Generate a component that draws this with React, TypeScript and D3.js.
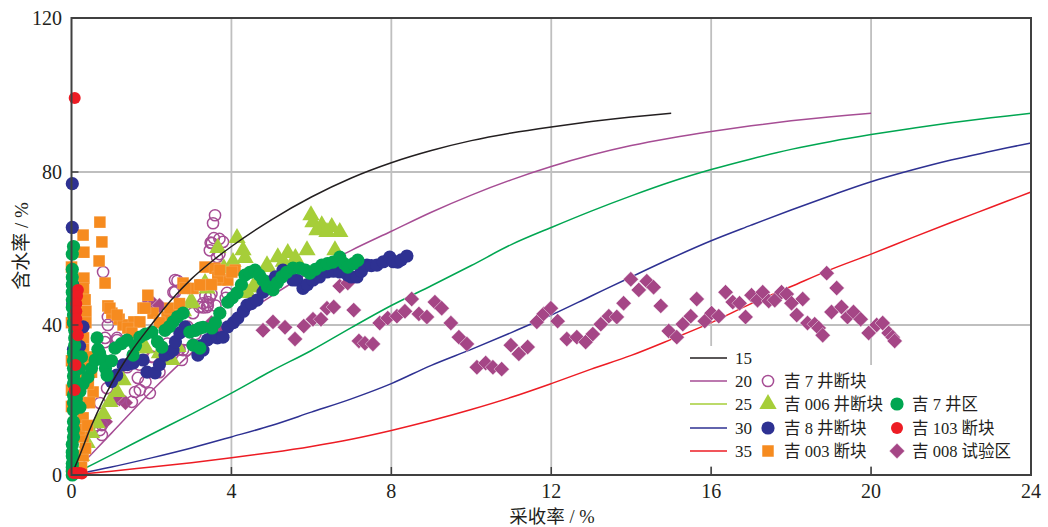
import React from "react";
import * as d3 from "d3";

type P = [number, number];

const xTicks = [0, 4, 8, 12, 16, 20, 24];
const yTicks = [0, 40, 80, 120];

const curve15: P[] = [[0,0],[0.2,5],[0.5,13],[1,24],[1.5,32.5],[2,39.5],[2.5,46],[3,51.5],[3.5,56],[4,60],[5,67],[6,73],[7,78],[8,82],[9,85.2],[10,87.8],[11,89.8],[12,91.4],[13,92.8],[14,94],[15,95]];
const curve20: P[] = [[0,0],[1,11],[2,22],[3,32],[4,40],[5,47],[6,53.5],[7,59],[8,64],[9,69],[10,73.5],[11,77.5],[12,81],[13,84],[14,86.5],[15,88.5],[16,90.2],[17,91.7],[18,93],[19,94.1],[20,95]];
const curve25: P[] = [[0,0],[1,5.3],[2,10.7],[3,16],[4,21.5],[5,27.3],[6,32.7],[7,38.7],[8,44.5],[9,49.7],[10,55],[11,60.5],[12,65],[13,69.3],[14,73.3],[15,77],[16,80.2],[17,83],[18,85.5],[19,87.6],[20,89.4],[21,91],[22,92.5],[23,93.8],[24,95]];
const curve30: P[] = [[0,0],[1,2.1],[2,4.5],[3,7.1],[4,10],[5,13],[6,16.5],[7,20],[8,24],[9,28.8],[10,33],[11,37.4],[12,42],[13,47],[14,52],[15,56.9],[16,61.5],[17,65.6],[18,69.6],[19,73.4],[20,77],[21,80],[22,82.7],[23,85],[24,87.2]];
const curve35: P[] = [[0,0],[1,1],[2,2.1],[3,3.2],[4,4.5],[5,5.9],[6,7.5],[7,9.4],[8,11.7],[9,14.3],[10,17.2],[11,20.4],[12,24],[13,27.8],[14,31.4],[15,35.6],[16,40],[17,45],[18,49.5],[19,54],[20,58],[21,62.2],[22,66.3],[23,70.3],[24,74.3]];

const jiOpen: P[] = [[3.59,68.2],[3.54,66.1],[3.56,62.2],[3.79,61.2],[3.51,60.9],[3.46,59],[3.64,57.2],[2.59,51.2],[2.59,48],[3.46,46.7],[3.41,45.4],[3.39,44.1],[3.29,45.1],[3.89,47.8],[0.79,53.3],[0.91,41.5],[0.91,39.4],[0.84,36],[1.14,36],[0.84,34.9],[1.14,35.4],[2.01,31],[1.96,21.5],[1.71,22.3],[1.59,21.8],[1.51,19.2],[1.66,25.5],[1.85,24.5],[2.76,30.2],[2.89,32.8],[2.7,33],[2.4,34.5],[3.3,44],[3.35,47],[3.6,44.5],[3.86,46.5],[0.71,11.8],[0.76,13.1],[0.76,10.5],[0.6,13],[0.71,18.9],[0.89,22.8],[1.39,28.3],[1.2,20],[2.59,32.8],[2.79,32.8],[2.04,31],[3.04,42.5],[2.65,51],[2.55,48],[3.41,44.6],[3.2,44.1],[3.5,47.5],[2.9,39],[3.1,37],[1.7,29],[2.2,27],[1.0,30],[3.7,58],[3.48,61],[3.7,62]];
const triangles: P[] = [[5.99,68.2],[6.04,66.4],[6.26,65.6],[6.51,65.1],[6.71,63.8],[6.14,64.3],[6.39,63.8],[5.89,59],[5.41,58.3],[5.16,57.2],[4.89,55.1],[6.59,59],[4.14,62.2],[4.34,57],[4.04,55.9],[3.66,59.6],[3.81,54.3],[4.29,59],[4.64,49.3],[4.41,47.8],[3.34,50.4],[2.96,45.1],[2.66,33.6],[2.34,30.2],[0.39,8.4],[0.64,13.6],[0.96,19.2],[1.14,21.8],[1.29,24.9],[1.79,33.3],[2.51,30.2],[3.01,45.4],[3.39,49],[4.54,49.3],[4.89,54.6],[5.3,56],[5.6,57],[0.25,5],[0.8,16],[1.86,33.3],[2.2,32],[2.8,43],[4.75,52],[0.5,11]];
const squares: P[] = [[0.71,66.4],[0.29,63],[0.76,61.2],[0.31,58.5],[0.69,56.2],[0,54.6],[0.84,50.4],[0.31,51.7],[0.3,49],[0.34,46],[0.36,43],[0.36,40],[0.91,44.4],[1.01,42.5],[1.19,40.9],[1.29,39.4],[1.56,40.2],[1.71,40.2],[1.79,43.8],[1.91,47.2],[2.04,42.5],[1.41,38.6],[1.51,37.3],[0,22.3],[0,18],[0,30],[0,40],[0.29,15],[0.29,10],[0.29,5],[0.25,2],[0.3,19],[0.34,29.4],[0.3,25],[0.54,21.8],[0.45,19],[0.3,33],[0.2,12],[0.35,7],[0.4,13],[0.42,24],[0.5,27],[0.42,31],[0.3,36],[3.34,54.6],[3.59,54.3],[4.09,53.8],[3.71,51.2],[3.91,51.2],[2.79,50.4],[3.04,49],[3.26,49.9],[2.59,43.3],[2.39,41.5],[2.46,43.8],[2.7,45],[1.84,43.8],[2.84,49],[3.21,49.9],[3.66,52],[4.01,53.3],[3.71,53.8],[0.96,43.8],[1.14,42],[2.2,40],[3.5,50]];
const blue: P[] = [[0.02,76.5],[0.02,65],[0.03,50],[0.03,45],[0.05,40],[0.29,38.9],[0.2,33.8],[0.05,33],[1.0,24.5],[1.13,26.2],[1.29,28.9],[1.4,29],[1.54,29.4],[1.79,30.2],[1.89,27],[2.09,26.8],[2.2,29],[2.34,31.5],[2.45,32],[2.54,32.8],[2.6,35],[2.71,37.3],[2.84,38.9],[3.16,31.5],[3.25,34],[3.29,32.8],[3.4,35.5],[3.51,36.2],[3.65,36],[3.79,36.2],[3.91,38.9],[4.05,40],[4.16,41.2],[4.3,43],[4.39,44.6],[4.5,45],[4.64,45.9],[4.79,48],[4.85,49],[4.96,50.7],[5.1,52],[5.29,53.8],[5.45,53],[5.54,51.2],[5.64,51.2],[5.79,49],[5.9,50],[6.04,51.2],[6.2,52],[6.39,53.3],[6.55,53.5],[6.71,53.3],[6.91,52.5],[7,52],[7.14,52],[7.25,53.5],[7.39,55.1],[7.5,55],[7.64,55.1],[7.8,56],[7.96,57.2],[8.05,56],[8.16,55.9],[8.25,56.5],[8.39,57.5]];
const green: P[] = [[0.02,0],[0.02,1],[0.02,2],[0.02,3],[0.02,5],[0.02,6],[0.02,8],[0.05,10],[0.05,12],[0.05,14],[0.05,17],[0.05,19],[0.05,21],[0.05,24],[0.05,26],[0.05,28],[0.05,30],[0.05,32],[0.08,34],[0.08,36],[0.08,38],[0.05,40],[0.05,42],[0.02,44],[0.02,46],[0.02,48],[0.02,50],[0.02,52],[0.02,54],[0.02,58],[0.05,60],[0.12,20],[0.15,24],[0.2,28],[0.25,31],[0.21,17.8],[0.21,22],[0.29,24],[0.41,25.7],[0.5,28],[0.59,30.2],[0.66,33],[0.64,36],[0.7,32],[0.79,30.2],[0.85,28],[0.89,26.2],[1.0,30],[1.09,33.3],[1.25,34.5],[1.39,35.4],[1.54,31.5],[1.6,34],[1.71,36.2],[1.85,37],[2.01,37.5],[2.15,35],[2.26,33.6],[2.34,38],[2.45,39],[2.54,40.2],[2.65,41.5],[2.79,42.5],[2.96,37.5],[3.04,34.1],[3.21,33.3],[3.1,38],[3.21,38.6],[3.29,38.8],[3.51,38.6],[3.6,40],[3.71,42.5],[3.91,45.4],[4.02,46.5],[4.14,47.8],[4.25,50],[4.34,52.5],[4.46,53.2],[4.59,53.8],[4.7,52.5],[4.79,51.2],[4.9,49.5],[5.04,48.6],[5.15,50.5],[5.26,52],[5.38,53.2],[5.54,54.3],[5.71,54.3],[5.85,53.8],[5.96,53],[6.1,54],[6.26,55.1],[6.4,55.5],[6.54,55.9],[6.71,57.2],[6.82,55.5],[6.91,54.6],[7.05,55.5],[7.16,56.4]];
const red: P[] = [[0.08,99],[0.16,48.6],[0.14,47],[0.12,45],[0.12,43],[0.12,41],[0.14,39],[0.16,36.7],[0.1,28.9],[0.08,22.3],[0.05,0.5],[0.12,0.5],[0.2,0.5],[0.26,0.4]];
const diamonds: P[] = [[1.95,45.5],[2.05,45],[2.2,44.5],[0.85,14],[1.2,20],[1.35,19],[3.5,40],[3.7,38],[4.79,38],[5.04,40.2],[5.34,38.8],[5.59,35.7],[5.81,39.1],[6.04,40.9],[6.24,40.9],[6.39,43.8],[6.56,44.1],[6.71,49.6],[6.91,50.4],[7.06,43.3],[7.19,35.2],[7.34,34.6],[7.54,34.4],[7.71,39.9],[7.91,41.2],[8.14,41.7],[8.34,43],[8.51,46.2],[8.69,42.3],[8.89,41.5],[9.09,45.4],[9.26,43.8],[9.49,39.9],[9.69,36.2],[9.89,34.4],[10.14,28.3],[10.36,29.4],[10.54,28.3],[10.76,27.8],[10.99,34.1],[11.19,31.8],[11.41,33.6],[11.64,40.2],[11.81,42.3],[11.99,43.8],[12.16,40.4],[12.39,35.7],[12.64,36.2],[12.86,34.9],[13.04,37],[13.24,39.6],[13.44,41.7],[13.64,41.5],[13.81,45.1],[13.99,51.4],[14.19,48.6],[14.39,50.9],[14.56,49.3],[14.74,44.4],[14.94,37.8],[15.14,36.2],[15.29,39.6],[15.49,41.7],[15.64,46.2],[15.84,40.4],[16.01,42.5],[16.19,41.7],[16.36,48],[16.54,45.4],[16.71,45.1],[16.86,41.5],[17.01,47.2],[17.16,45.9],[17.29,48],[17.44,45.7],[17.59,45.9],[17.76,48],[17.89,47.5],[18.01,45.1],[18.14,42],[18.29,46.2],[18.41,39.9],[18.59,39.6],[18.69,38.6],[18.79,36.7],[18.89,53],[19.01,42.8],[19.14,49.1],[19.26,44.1],[19.41,41.5],[19.56,42.8],[19.74,40.9],[19.94,37.3],[20.14,39.4],[20.29,39.9],[20.44,37.3],[20.54,36.2],[20.59,35.2]];

const curveNames = ["15", "20", "25", "30", "35"];
const curveColors = ["#231f20", "#a64d94", "#a6ce39", "#2e3192", "#ed1c24"];
const lineColors = ["#231f20", "#a64d94", "#00a651", "#2e3192", "#ed1c24"];

const FONT = "'Liberation Serif','Noto Sans CJK SC',serif";
const TXT = "#231f20";
const AXIS = "#404040";
const GRID = "#bfbfbf";
const W = 1048;
const H = 527;

const x = d3.scaleLinear().domain([0, 24]).range([71.5, 1031]);
const y = d3.scaleLinear().domain([0, 120]).range([475, 18]);
// the printed axis is not perfectly even: its gridlines sit slightly off the linear positions
const yGrid = d3.scaleLinear().domain([0, 40, 80, 120]).range([475, 325, 172, 18]);
const line = d3.line<P>().x(d => x(d[0])).y(d => y(d[1])).curve(d3.curveCatmullRom);
const triPath = d3.symbol(d3.symbolTriangle, 130)() as string;
const sqPath = d3.symbol(d3.symbolSquare, 135)() as string;
const diaPath = d3.symbol(d3.symbolSquare, 118)() as string;

const Mark = ({ kind, px, py }: { kind: string; px: number; py: number }) => {
  const t = `translate(${px},${py})`;
  if (kind === "open") return <circle cx={px} cy={py} r={5.6} fill="none" stroke="#a64d94" strokeWidth={1.5} />;
  if (kind === "tri") return <path d={triPath} transform={t} fill="#a6ce39" />;
  if (kind === "sq") return <path d={sqPath} transform={t} fill="#f68b1f" stroke="#fff" strokeOpacity={0.35} strokeWidth={0.4} />;
  if (kind === "blue") return <circle cx={px} cy={py} r={6.6} fill="#2e3192" />;
  if (kind === "green") return <circle cx={px} cy={py} r={6.6} fill="#00a651" />;
  if (kind === "red") return <circle cx={px} cy={py} r={6} fill="#ed1c24" />;
  return <path d={diaPath} transform={`${t} rotate(45)`} fill="#a54686" stroke="#fff" strokeOpacity={0.7} strokeWidth={0.6} />;
};

const Points = ({ data, kind }: { data: P[]; kind: string }) => (
  <g>{data.map((d, i) => <Mark key={i} kind={kind} px={x(d[0])} py={y(d[1])} />)}</g>
);

const legendRows = [358, 381, 404, 428, 451];
const legendCol1: [string, string, number][] = [["open", "吉 7 井断块", 381], ["tri", "吉 006 井断块", 404], ["blue", "吉 8 井断块", 428], ["sq", "吉 003 断块", 451]];
const legendCol2: [string, string, number][] = [["green", "吉 7 井区", 404], ["red", "吉 103 断块", 428], ["dia", "吉 008 试验区", 451]];

export default function App() {
  const curves = [curve15, curve20, curve25, curve30, curve35];
  return (
    <svg width={W} height={H} viewBox={`0 0 ${W} ${H}`} style={{ position: "absolute", left: 0, top: 0, background: "#fff" }} fontFamily={FONT}>
      {xTicks.slice(1, -1).map(t => <line key={t} x1={x(t)} x2={x(t)} y1={yGrid(120)} y2={yGrid(0)} stroke={GRID} strokeWidth={1.8} />)}
      {yTicks.slice(1, -1).map(t => <line key={t} x1={x(0)} x2={x(24)} y1={yGrid(t)} y2={yGrid(t)} stroke={GRID} strokeWidth={1.8} />)}
      <rect x={680} y={346} width={100} height={120} fill="#fff" />
      <rect x={780} y={365} width={249} height={101} fill="#fff" />

      {[4, 3, 2, 1].map(i => <path key={i} d={line(curves[i]) as string} fill="none" stroke={lineColors[i]} strokeWidth={1.5} />)}
      <Points data={diamonds} kind="dia" />
      <Points data={jiOpen} kind="open" />
      <Points data={triangles} kind="tri" />
      <Points data={squares} kind="sq" />
      <Points data={blue} kind="blue" />
      <Points data={green} kind="green" />
      <path d={line(curves[0]) as string} fill="none" stroke={lineColors[0]} strokeWidth={1.5} />
      <Points data={red} kind="red" />

      <rect x={x(0)} y={yGrid(120)} width={x(24) - x(0)} height={yGrid(0) - yGrid(120)} fill="none" stroke={AXIS} strokeWidth={2} />
      {xTicks.slice(1, -1).map(t => <line key={t} x1={x(t)} x2={x(t)} y1={yGrid(0)} y2={yGrid(0) - 8} stroke={AXIS} strokeWidth={1.5} />)}
      {yTicks.slice(1, -1).map(t => <line key={t} x1={x(0)} x2={x(0) + 7} y1={yGrid(t)} y2={yGrid(t)} stroke={AXIS} strokeWidth={1.5} />)}

      {xTicks.map(t => <text key={t} x={x(t)} y={498} textAnchor="middle" fontSize={20} fill={TXT}>{t}</text>)}
      {yTicks.map(t => <text key={t} x={62} y={yGrid(t) + 7} textAnchor="end" fontSize={20} fill={TXT}>{t}</text>)}
      <text x={552} y={523} textAnchor="middle" fontSize={18.5} fill={TXT}>采收率 / %</text>
      <text transform="translate(28,246) rotate(-90)" textAnchor="middle" fontSize={19} fill={TXT}>含水率 / %</text>

      {legendRows.map((ly, i) => (
        <g key={i}>
          <line x1={690} x2={727} y1={ly} y2={ly} stroke={curveColors[i]} strokeWidth={1.5} />
          <text x={735} y={ly + 6} fontSize={17} fill={TXT}>{curveNames[i]}</text>
        </g>
      ))}
      {legendCol1.map(([k, label, ly]) => (
        <g key={label}>
          <Mark kind={k} px={768} py={ly} />
          <text x={784} y={ly + 6} fontSize={16.5} fill={TXT}>{label}</text>
        </g>
      ))}
      {legendCol2.map(([k, label, ly]) => (
        <g key={label}>
          <Mark kind={k} px={897} py={ly} />
          <text x={912} y={ly + 6} fontSize={16.5} fill={TXT}>{label}</text>
        </g>
      ))}
    </svg>
  );
}
